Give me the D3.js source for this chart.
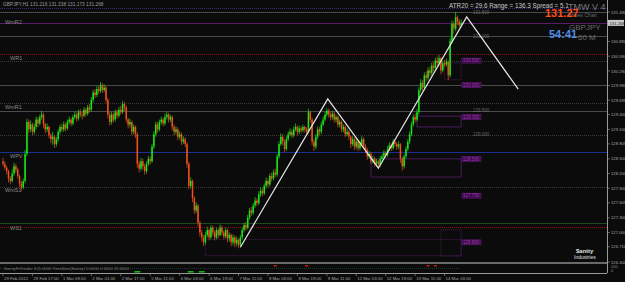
<!DOCTYPE html>
<html>
<head>
<meta charset="utf-8">
<script src="https://cdn.jsdelivr.net/npm/d3@7"></script>
<style>
  html, body { margin: 0; padding: 0; background: #0b0b0b; }
  svg { display: block; font-family: "Liberation Sans", Arial, sans-serif; }
</style>
</head>
<body>
<svg width="625" height="282"></svg>
<script>
// GBPJPY H1 candles, 29 Feb 2012 -> 14 Mar 2012
const firstOpen = 128.45;
const closes = [
  128.40,128.32,128.25,128.10,128.05,128.20,128.35,128.28,128.15,128.00,
  127.92,128.05,128.60,129.25,129.10,129.20,129.05,129.15,129.30,129.22,
  129.35,129.40,129.20,129.10,129.15,128.98,128.90,128.95,128.80,128.90,
  129.05,129.15,129.10,129.20,129.12,129.25,129.30,129.22,129.35,129.40,
  129.32,129.45,129.40,129.38,129.50,129.42,129.55,129.50,129.70,129.85,
  129.80,129.92,129.88,130.00,129.90,129.95,129.70,129.40,129.25,129.40,
  129.30,129.45,129.38,129.50,129.45,129.62,129.55,129.30,129.20,129.25,
  129.05,129.15,129.00,128.40,128.30,128.45,128.35,128.25,128.40,128.50,
  128.45,128.75,129.00,129.20,129.10,129.25,129.30,129.22,129.35,129.40,
  129.30,129.35,129.15,129.05,129.10,128.95,129.00,128.85,128.90,128.80,
  128.40,127.95,128.05,127.70,127.45,127.55,127.20,127.00,126.90,126.80,
  126.95,127.05,126.90,127.10,127.00,126.90,127.05,126.95,127.10,127.00,
  126.92,127.05,126.88,126.95,126.80,126.90,126.78,126.85,126.75,126.90,
  127.05,127.15,127.10,127.30,127.45,127.40,127.55,127.65,127.60,127.78,
  127.85,127.80,127.95,128.05,127.98,128.15,128.10,128.22,128.18,128.55,
  128.80,128.95,128.85,128.70,128.90,129.00,129.05,128.98,129.10,129.15,
  129.05,129.12,129.08,129.15,129.10,129.05,129.45,129.30,128.85,128.75,
  128.95,129.10,129.05,129.20,129.30,129.40,129.48,129.40,129.35,129.42,
  129.30,129.35,129.20,129.25,129.10,129.15,129.00,129.05,128.95,128.80,
  128.90,128.75,128.85,128.72,128.80,128.90,128.75,128.68,128.55,128.60,
  128.45,128.50,128.40,128.45,128.38,128.50,128.55,128.62,128.58,128.70,
  128.78,128.72,128.85,128.80,128.75,128.80,128.50,128.35,128.55,128.70,
  128.85,129.00,129.20,129.35,129.30,129.45,129.90,130.05,129.95,130.20,
  130.15,130.30,130.25,130.40,130.35,130.50,130.45,130.55,130.30,130.45,
  130.42,130.48,130.20,130.90,131.25,131.15,131.38,131.30,131.22,131.268
];
const highs = [
  128.52,128.45,128.36,128.28,128.15,128.28,128.42,128.40,128.32,128.18,
  128.05,128.10,128.68,129.32,129.30,129.28,129.24,129.22,129.36,129.35,
  129.40,129.48,129.44,129.24,129.22,129.18,129.02,129.05,128.98,128.95,
  129.10,129.20,129.22,129.26,129.24,129.30,129.36,129.34,129.40,129.46,
  129.44,129.50,129.52,129.46,129.55,129.54,129.60,129.62,129.76,129.90,
  129.92,129.98,129.98,130.06,130.04,130.02,129.98,129.74,129.45,129.46,
  129.44,129.50,129.50,129.56,129.58,129.68,129.66,129.58,129.34,129.32,
  129.28,129.20,129.18,129.04,128.46,128.52,128.50,128.40,128.45,128.56,
  128.55,128.80,129.06,129.26,129.25,129.30,129.36,129.34,129.42,129.46,
  129.44,129.40,129.38,129.20,129.16,129.14,129.06,129.04,128.96,128.94,
  128.84,128.44,128.12,128.08,127.74,127.62,127.58,127.24,127.05,126.95,
  127.02,127.12,127.08,127.15,127.14,127.04,127.10,127.08,127.16,127.14,
  127.04,127.10,127.08,127.00,126.98,126.96,126.94,126.92,126.88,126.95,
  127.10,127.20,127.22,127.36,127.50,127.52,127.60,127.72,127.70,127.84,
  127.92,127.90,128.00,128.12,128.10,128.20,128.22,128.28,128.30,128.60,
  128.86,129.02,129.00,128.90,128.96,129.06,129.12,129.10,129.16,129.22,
  129.18,129.18,129.16,129.20,129.18,129.14,129.52,129.48,129.34,128.90,
  129.00,129.16,129.15,129.26,129.36,129.46,129.53,129.52,129.45,129.48,
  129.46,129.40,129.38,129.30,129.28,129.20,129.18,129.12,129.08,128.98,
  128.96,128.94,128.92,128.88,128.86,128.96,128.94,128.80,128.72,128.66,
  128.64,128.56,128.54,128.50,128.48,128.56,128.60,128.68,128.66,128.76,
  128.84,128.82,128.90,128.90,128.84,128.86,128.82,128.54,128.60,128.76,
  128.90,129.06,129.26,129.40,129.42,129.52,129.96,130.12,130.10,130.26,
  130.28,130.36,130.38,130.46,130.48,130.56,130.58,130.62,130.58,130.50,
  130.52,130.54,130.50,130.96,131.32,131.30,131.49,131.42,131.34,131.338
];
const lows = [
  128.35,128.28,128.18,128.02,127.98,128.02,128.15,128.22,128.10,127.92,
  127.85,127.88,128.00,128.55,129.02,129.05,128.98,129.00,129.10,129.15,
  129.18,129.30,129.12,129.02,129.05,128.92,128.82,128.78,128.72,128.75,
  128.85,129.00,129.05,129.05,129.06,129.08,129.20,129.16,129.18,129.30,
  129.26,129.28,129.35,129.30,129.34,129.36,129.38,129.44,129.46,129.65,
  129.74,129.76,129.82,129.84,129.84,129.86,129.64,129.32,129.18,129.20,
  129.24,129.26,129.32,129.34,129.40,129.42,129.48,129.24,129.12,129.14,
  128.98,129.00,128.92,128.32,128.22,128.26,128.28,128.18,128.20,128.35,
  128.38,128.42,128.70,128.95,129.04,129.06,129.20,129.16,129.18,129.30,
  129.24,129.25,129.08,128.98,129.00,128.88,128.90,128.78,128.80,128.74,
  128.32,127.88,127.90,127.62,127.38,127.40,127.12,126.92,126.82,126.72,
  126.75,126.90,126.84,126.86,126.94,126.84,126.86,126.88,126.92,126.94,
  126.86,126.88,126.80,126.82,126.72,126.74,126.70,126.72,126.68,126.70,
  126.86,127.00,127.04,127.06,127.26,127.34,127.36,127.50,127.54,127.56,
  127.72,127.74,127.76,127.90,127.92,127.94,128.04,128.06,128.12,128.14,
  128.50,128.76,128.78,128.64,128.66,128.86,128.96,128.92,128.94,129.06,
  128.98,129.00,129.02,129.04,129.04,128.98,129.02,129.24,128.78,128.66,
  128.70,128.90,128.98,129.00,129.16,129.26,129.36,129.34,129.28,129.30,
  129.24,129.24,129.14,129.14,129.04,129.04,128.94,128.96,128.88,128.72,
  128.76,128.68,128.70,128.66,128.68,128.76,128.70,128.62,128.48,128.50,
  128.40,128.40,128.34,128.34,128.32,128.34,128.44,128.50,128.52,128.54,
  128.66,128.66,128.68,128.74,128.68,128.70,128.42,128.26,128.30,128.50,
  128.66,128.80,128.96,129.16,129.24,129.26,129.40,129.85,129.88,129.90,
  130.08,130.10,130.18,130.20,130.28,130.30,130.38,130.40,130.22,130.26,
  130.36,130.38,130.10,130.16,130.85,131.05,131.10,131.22,131.17,131.173
];

// time axis (bar index -> label)
const timeTickBars = [0,16,32,48,64,80,96,112,128,144,160,176,192,208,224,240];
const timeTickLabels = ["29 Feb 2012","29 Feb 17:00","1 Mar 09:00","2 Mar 01:00","2 Mar 17:00",
  "5 Mar 11:00","6 Mar 03:00","6 Mar 19:00","7 Mar 11:00","8 Mar 03:00","8 Mar 19:00",
  "9 Mar 11:00","12 Mar 03:00","12 Mar 19:00","13 Mar 11:00","14 Mar 03:00"];

// price axis
const priceTicks = [131.490,130.890,130.590,130.290,129.990,129.695,129.400,129.100,
  128.805,128.500,128.200,127.900,127.605,127.300,127.000,126.710,126.400];

// pivot / level lines
const levelPrices = [131.57,131.50,131.27,131.00,130.63,130.49,130.00,129.64,129.47,128.98,128.64,127.93,127.19,127.11];
const levelNames  = ["","","WmR2","","WR1","","","","WmR1","","WPV","WmS1","","WS1"];
const levelKinds  = ["purpleDot","gray","purple","gray","redDot","grayDot","gray","grayDot","gray","grayDot","blue","grayDot","green","redDot"];
const levelTextShift = [0,0,1,0,6,0,0,0,-2,0,6,5,0,3];

// round number labels
const roundLevels = [131.5,131.0,129.5,129.0];

// purple zones: [startBar, endBar, top, bottom]
const zoneStart  = [225,200,110,238,240];
const zoneEnd    = [249,249,249,249,249];
const zoneTop    = [129.37,128.50,126.86,127.05,130.45];
const zoneBottom = [129.15,128.13,126.53,126.52,130.11];
const zoneLabelPrices = [130.50,130.00,129.35,128.50,127.75,126.80];
const zoneLabels = ["130.500","130.000","129.350","128.500","127.750","126.800"];

// manual zigzag
const zzBars   = [129,176.5,204,252,280];
const zzPrices = [126.70,129.72,128.31,131.39,129.92];

// indicator subwindow signals
const redSignalBars = [148,165,231,235];
const greenSignalBars = [73,102,108];

const W = 625, H = 282;
const svg = d3.select('svg');
svg.append('rect').attr('width', W).attr('height', H).attr('fill', '#0b0b0b');

const x = d3.scaleLinear().domain([0, 250]).range([3, 463]);
const y = d3.scaleLinear().domain([126.40, 131.49]).range([262, 12]);

const g = svg.append('g');

// level lines
const levelStyle = {
  purpleDot: { c: '#3a2a6a', dash: '1,1' },
  gray:      { c: '#4a4a4a', dash: null },
  purple:    { c: '#5a1a6a', dash: null },
  redDot:    { c: '#8a1010', dash: '1,1' },
  grayDot:   { c: '#3a3a3a', dash: '1,1' },
  blue:      { c: '#1c2f8c', dash: null },
  green:     { c: '#1c4a1c', dash: null }
};
levelPrices.forEach((p, i) => {
  const s = levelStyle[levelKinds[i]];
  g.append('line')
    .attr('x1', 0).attr('x2', 607)
    .attr('y1', Math.round(y(p)) + 0.5).attr('y2', Math.round(y(p)) + 0.5)
    .attr('stroke', s.c).attr('stroke-width', 1)
    .attr('stroke-dasharray', s.dash);
  if (levelNames[i]) {
    g.append('text')
      .attr('x', levelNames[i].startsWith('Wm') ? 5 : 10)
      .attr('y', y(p) + levelTextShift[i])
      .attr('fill', '#8a8a8a').style('font-size', '5.5px')
      .text(levelNames[i]);
  }
});

// purple zones
zoneStart.forEach((s, i) => {
  g.append('rect')
    .attr('x', x(s)).attr('y', y(zoneTop[i]))
    .attr('width', x(zoneEnd[i]) - x(s))
    .attr('height', y(zoneBottom[i]) - y(zoneTop[i]))
    .attr('fill', 'none').attr('stroke', '#4a1a5a').attr('stroke-width', 1)
    .attr('stroke-dasharray', i >= 2 ? '1,1' : null);
});
zoneLabelPrices.forEach((p, i) => {
  g.append('rect')
    .attr('x', 462).attr('y', y(p) - 2.5).attr('width', 19).attr('height', 5)
    .attr('fill', '#3a0a4a').attr('stroke', '#6a1a7a').attr('stroke-width', 0.6);
  g.append('text')
    .attr('x', 463).attr('y', y(p) + 1.8)
    .attr('fill', '#9a3aaa').style('font-size', '4.5px')
    .text(zoneLabels[i]);
});
roundLevels.forEach(p => {
  g.append('text')
    .attr('x', 473).attr('y', y(p) + 2)
    .attr('fill', '#6a6a6a').style('font-size', '4.5px')
    .text(p.toFixed(3));
});

// candles
const bars = closes.map((c, i) => ({
  i, o: i === 0 ? firstOpen : closes[i - 1], h: highs[i], l: lows[i], c
}));
const candle = g.append('g').selectAll('g').data(bars).join('g');
candle.append('line')
  .attr('x1', d => x(d.i)).attr('x2', d => x(d.i))
  .attr('y1', d => y(d.h)).attr('y2', d => y(d.l))
  .attr('stroke', d => d.c >= d.o ? '#19e619' : '#f0501e')
  .attr('stroke-width', 0.7);
candle.append('rect')
  .attr('x', d => x(d.i) - 0.75).attr('width', 1.5)
  .attr('y', d => y(Math.max(d.o, d.c)))
  .attr('height', d => Math.max(0.6, Math.abs(y(d.o) - y(d.c))))
  .attr('fill', d => d.c >= d.o ? '#19e619' : '#f0501e');

// zigzag
const zz = zzBars.map((b, i) => [x(b), y(zzPrices[i])]);
g.append('path')
  .attr('d', d3.line()(zz))
  .attr('fill', 'none').attr('stroke', '#e8e8e8').attr('stroke-width', 1.2);

// right price axis
g.append('line').attr('x1', 607.5).attr('x2', 607.5).attr('y1', 0).attr('y2', 273)
  .attr('stroke', '#9a9a9a').attr('stroke-width', 1);
priceTicks.forEach(p => {
  g.append('line').attr('x1', 607).attr('x2', 610)
    .attr('y1', y(p)).attr('y2', y(p)).attr('stroke', '#9a9a9a').attr('stroke-width', 0.6);
  g.append('text').attr('x', 611).attr('y', y(p) + 1.6)
    .attr('fill', '#a8a8a8').style('font-size', '4.2px').text(p.toFixed(3));
});
// current price box
const last = closes[closes.length - 1];
g.append('rect').attr('x', 608).attr('y', y(last) - 3).attr('width', 16).attr('height', 6)
  .attr('fill', '#c8c8c8');
g.append('text').attr('x', 609.5).attr('y', y(last) + 1.6)
  .attr('fill', '#202020').style('font-size', '4.2px').text(last.toFixed(3));

// subwindow separator and indicator
g.append('rect').attr('x', 0).attr('y', 262).attr('width', 607).attr('height', 2).attr('fill', '#6a6a6a');
g.append('line').attr('x1', 0).attr('x2', 607).attr('y1', 273.5).attr('y2', 273.5)
  .attr('stroke', '#9a9a9a').attr('stroke-width', 1);
g.append('line').attr('x1', 0).attr('x2', 460).attr('y1', 268.5).attr('y2', 268.5)
  .attr('stroke', '#1c3a3a').attr('stroke-dasharray', '1,1');
redSignalBars.forEach(b => {
  g.append('rect').attr('x', x(b) - 1.5).attr('y', 265).attr('width', 3).attr('height', 1.6).attr('fill', '#d01010');
});
greenSignalBars.forEach(b => {
  g.append('rect').attr('x', x(b) - 3).attr('y', 271).attr('width', 6).attr('height', 1.6).attr('fill', '#10b010');
});
g.append('text').attr('x', 4).attr('y', 269.5).attr('fill', '#7a7a7a').style('font-size', '4.2px')
  .text('SanityFxTrader 4  (1.0000  TimeStart(Sanity)  0.0000  0.0000  11.0000');
g.append('text').attr('x', 611).attr('y', 267.5).attr('fill', '#8a8a8a').style('font-size', '4px').text('100');
g.append('text').attr('x', 611).attr('y', 272).attr('fill', '#8a8a8a').style('font-size', '4px').text('0');

// time axis
timeTickBars.forEach((b, i) => {
  g.append('line').attr('x1', x(b)).attr('x2', x(b)).attr('y1', 273).attr('y2', 276)
    .attr('stroke', '#9a9a9a').attr('stroke-width', 0.6);
  g.append('text').attr('x', x(b) + 1).attr('y', 280)
    .attr('fill', '#a8a8a8').style('font-size', '4.3px').text(timeTickLabels[i]);
});

// header texts
g.append('text').attr('x', 3).attr('y', 6).attr('fill', '#9a9a9a').style('font-size', '4.8px')
  .text('GBPJPY,H1  131.216 131.338 131.173 131.268');
g.append('text').attr('x', 449).attr('y', 7.5).attr('fill', '#c8c8c8').style('font-size', '6.3px')
  .text('ATR20 = 29.6 Range = 136.3 Spread = 5.1');
g.append('text').attr('x', 568).attr('y', 10).attr('fill', '#7a7a7a').style('font-size', '9px')
  .text('TMW V 4');
g.append('text').attr('x', 568).attr('y', 17).attr('fill', '#6a6a6a').style('font-size', '5px')
  .text('Waves Chart');
g.append('text').attr('x', 545).attr('y', 17).attr('fill', '#ff4d1a').style('font-size', '11px')
  .style('font-weight', 'bold').text('131.27');
g.append('text').attr('x', 569).attr('y', 30).attr('fill', '#6a6a6a').style('font-size', '8px')
  .text('GBPJPY');
g.append('text').attr('x', 578).attr('y', 40).attr('fill', '#6a6a6a').style('font-size', '8px')
  .text('60 M');
g.append('text').attr('x', 549).attr('y', 38).attr('fill', '#4f8fe8').style('font-size', '11px')
  .style('font-weight', 'bold').text('54:41');

// logo
g.append('text').attr('x', 576).attr('y', 253).attr('fill', '#e0e0e0').style('font-size', '6px')
  .style('font-weight', 'bold').text('$anity');
g.append('text').attr('x', 574).attr('y', 259).attr('fill', '#e0e0e0').style('font-size', '5px')
  .text('Industries');
</script>
</body>
</html>
